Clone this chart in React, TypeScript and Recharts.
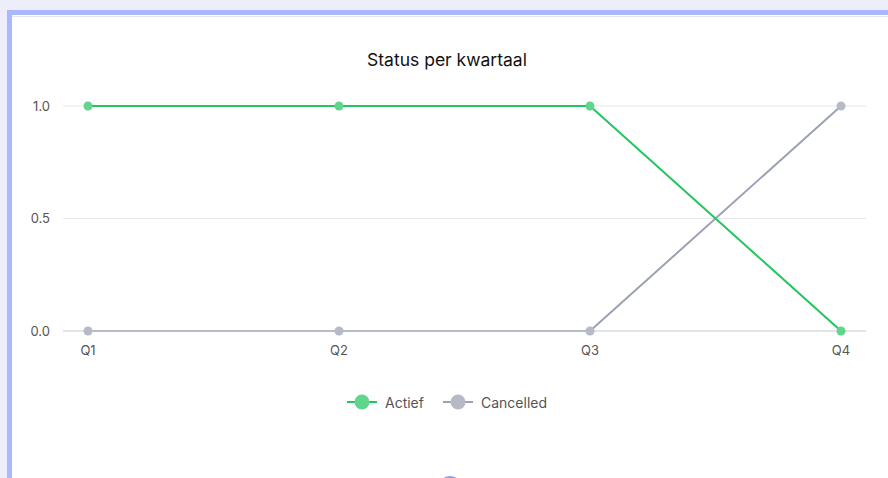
import React from "react";
import { LineChart, Line, XAxis, YAxis, CartesianGrid } from "recharts";

const quarters = ["Q1", "Q2", "Q3", "Q4"];
const actief = [1, 1, 1, 0];
const cancelled = [0, 0, 0, 1];
const yTicks = [0, 0.5, 1];

const series = [
  { key: "actief", name: "Actief", stroke: "#22c55e", dot: "#5fd68c" },
  { key: "cancelled", name: "Cancelled", stroke: "#9ca2b4", dot: "#b6bac6" },
];

const data = quarters.map((q, i) => ({ quarter: q, actief: actief[i], cancelled: cancelled[i] }));

const font = "Inter, 'Noto Sans', sans-serif";

export default function App() {
  return (
    <div style={{ position: "absolute", left: 0, top: 0, width: 888, height: 478, background: "#eeeefb", overflow: "hidden", fontFamily: font }}>
      {/* card */}
      <div style={{ position: "absolute", left: 7, top: 10, width: 900, height: 500, background: "#fff", borderTop: "5px solid #abb8fd", borderLeft: "5px solid #abb8fd" }}>
        <div style={{ position: "absolute", left: 0, top: 1, right: 0, height: 1, background: "#e4e6ec" }} />
      </div>

      <div style={{ position: "absolute", left: 0, top: 49, width: 894, textAlign: "center", fontSize: 17.5, color: "#111", fontWeight: 400 }}>
        Status per kwartaal
      </div>

      <div style={{ position: "absolute", left: 0, top: 0 }}>
        <LineChart width={888} height={478} data={data} margin={{ top: 106, right: 22, bottom: 117, left: 13 }}>
          <CartesianGrid vertical={false} stroke="#e5e7eb" />
          <XAxis
            dataKey="quarter"
            height={30}
            padding={{ left: 25, right: 25 }}
            tickLine={false}
            tickSize={0}
            tickMargin={15}
            stroke="#d0d3d9"
            tick={{ fill: "#555", fontSize: 13, fontFamily: font }}
          />
          <YAxis
            width={50}
            domain={[0, 1]}
            ticks={yTicks}
            axisLine={false}
            tickLine={false}
            tickSize={0}
            tickMargin={13}
            tickFormatter={(v: number) => v.toFixed(1)}
            tick={{ fill: "#555", fontSize: 13, fontFamily: font }}
          />
          {series
            .slice()
            .reverse()
            .map((s) => (
              <Line
                key={s.key}
                type="linear"
                dataKey={s.key}
                name={s.name}
                stroke={s.stroke}
                strokeWidth={2}
                dot={{ r: 4.5, fill: s.dot, stroke: "none" }}
                isAnimationActive={false}
              />
            ))}
        </LineChart>
      </div>

      {/* legend */}
      <div style={{ position: "absolute", left: 0, top: 393, width: 894, display: "flex", justifyContent: "center", gap: 19, fontSize: 14, color: "#555" }}>
        {series.map((s) => (
          <div key={s.key} style={{ display: "flex", alignItems: "center", gap: 8 }}>
            <svg width={30} height={18}>
              <line x1={0} y1={9} x2={30} y2={9} stroke={s.stroke} strokeWidth={2} />
              <circle cx={15} cy={9} r={7.5} fill={s.dot} />
            </svg>
            <span>{s.name}</span>
          </div>
        ))}
      </div>

      <div style={{ position: "absolute", left: 438, top: 476, width: 24, height: 24, borderRadius: "50%", background: "#7474da", opacity: 0.7 }} />
    </div>
  );
}
